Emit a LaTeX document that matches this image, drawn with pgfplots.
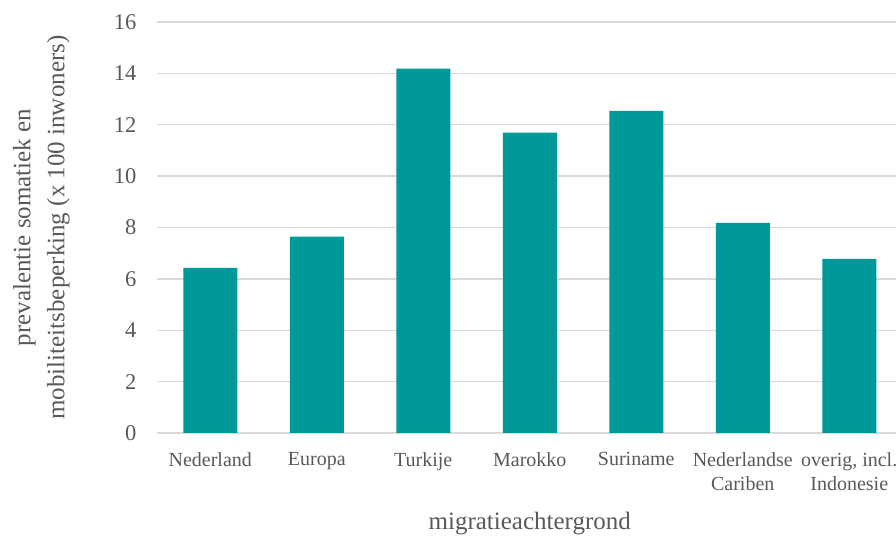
\documentclass[border=0pt]{standalone}
\usepackage{pgfplots}
\pgfplotsset{compat=1.18}
\usepackage{fontspec}
\setmainfont{Liberation Serif}
\definecolor{barteal}{RGB}{0,153,153}
\definecolor{txtgray}{RGB}{89,89,89}
\definecolor{gridgray}{RGB}{217,217,217}
\begin{document}
\begin{tikzpicture}
\useasboundingbox (0,0) rectangle (896pt,535pt);
\begin{axis}[
  at={(157pt,102pt)}, anchor=south west,
  scale only axis,
  width=745.5pt, height=411pt,
  ybar, bar width=54pt,
  xmin=-0.5, xmax=6.5,
  ymin=0, ymax=16,
  ytick={0,2,...,16},
  xtick=data,
  xticklabels={Nederland,Europa,Turkije,Marokko,Suriname,Nederlandse\\Cariben,{overig, incl.}\\Indonesie},
  major tick length=0pt,
  axis line style={draw=none},
  ymajorgrids,
  grid style={color=gridgray, line width=1.3pt},
  tick label style={color=txtgray},
  yticklabel style={font=\fontsize{22.5}{26}\selectfont},
  xticklabel style={font=\fontsize{20}{24}\selectfont, align=center, anchor=north},
  yticklabel shift=17pt,
  xticklabel shift=16pt,
  /pgf/number format/assume math mode=true,
  xlabel={migratieachtergrond},
  ylabel={prevalentie somatiek en\\mobiliteitsbeperking (x 100 inwoners)},
  every axis x label/.style={at={(axis description cs:0.5,-0.236)}, anchor=base, font=\fontsize{25}{30}\selectfont, color=txtgray},
  every axis y label/.style={at={(axis description cs:-0.155,0.5)}, rotate=90, anchor=center, align=center, font=\fontsize{25}{34}\selectfont, color=txtgray},
]
\addplot[fill=barteal, draw=none] coordinates {
  (0,6.43) (1,7.64) (2,14.18) (3,11.69) (4,12.54) (5,8.18) (6,6.78)
};
\end{axis}
\end{tikzpicture}
\end{document}
